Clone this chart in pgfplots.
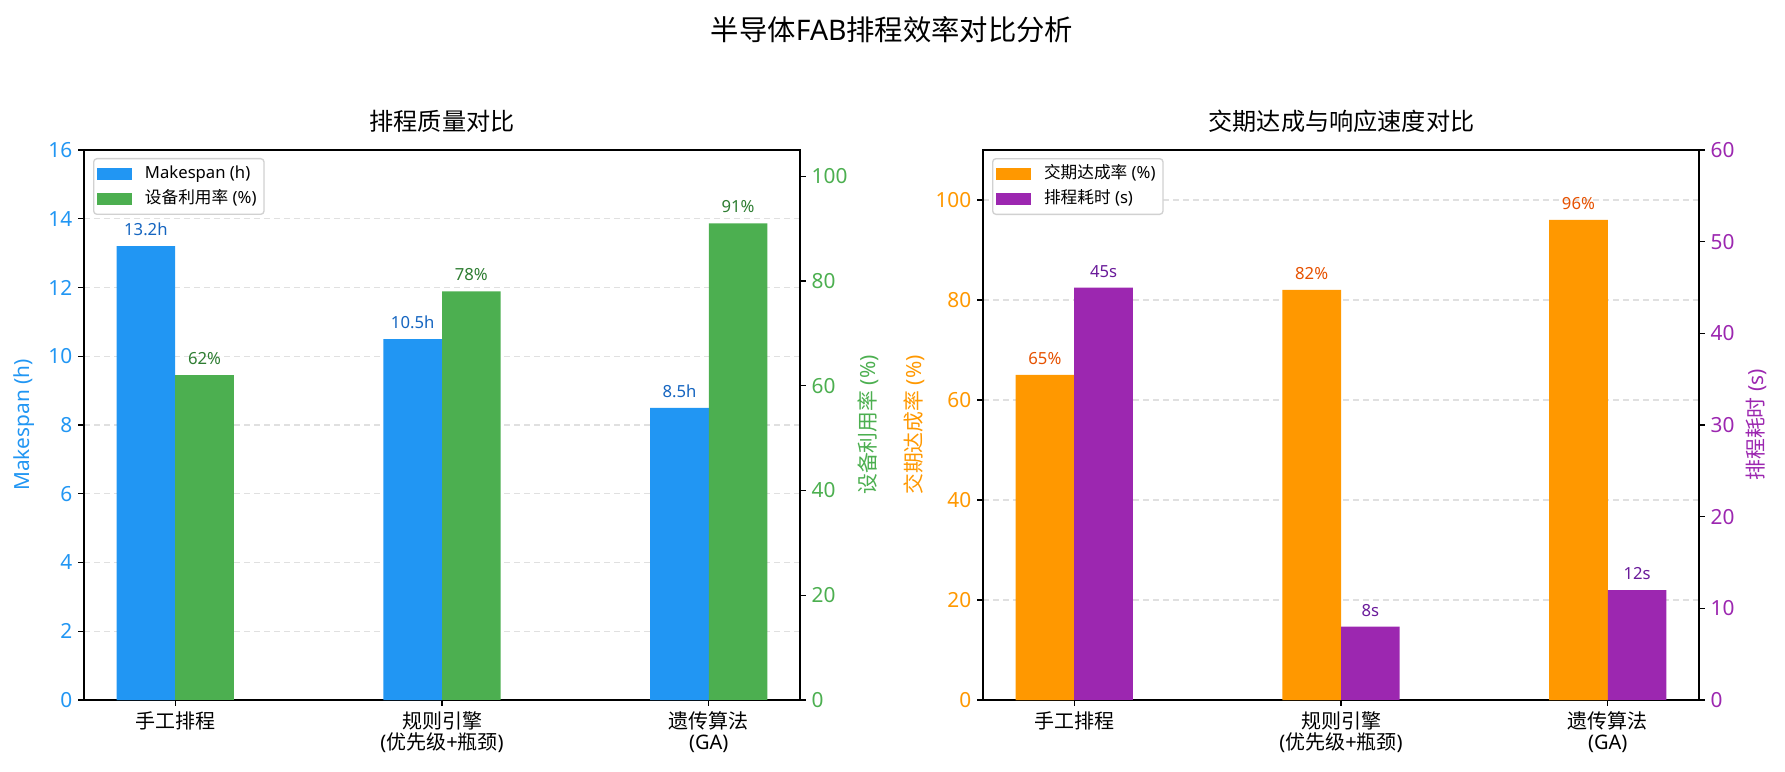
\documentclass[border=0pt]{standalone}
\usepackage{fontspec}
\setmainfont{Noto Sans}
\newfontfamily\cjk{Noto Sans CJK SC}
\usepackage{pgfplots}
\pgfplotsset{compat=1.18}
\newcommand\C[1]{{\cjk #1}}
\definecolor{cblue}{HTML}{2196F3}
\definecolor{cgreen}{HTML}{4CAF50}
\definecolor{corange}{HTML}{FF9800}
\definecolor{cpurple}{HTML}{9C27B0}
\definecolor{lblue}{HTML}{1565C0}
\definecolor{lgreen}{HTML}{2E7D32}
\definecolor{lorange}{HTML}{E65100}
\definecolor{lpurple}{HTML}{6A1B9A}
\pgfplotsset{
  base/.style={
    scale only axis, width=429.6pt, height=330pt,
    xmin=-0.342, xmax=2.342,
    tick align=outside, major tick length=3.5pt,
    every tick/.style={black, line width=0.8pt},
    axis line style={line width=0.8pt},
    yticklabel style={font=\fontsize{12.5}{14}\selectfont},
    /pgf/number format/assume math mode=true,
    clip=false,
  },
  lab/.style={point meta=explicit symbolic, nodes near coords,
    every node near coord/.append style={font=\fontsize{10}{12}\selectfont, color=#1, inner sep=0pt, yshift=6pt}},
  leg/.style={legend cell align=left,
    legend style={at={(0,1)}, anchor=north west, xshift=5.4pt, yshift=-4.8pt,
      draw=black!18, line width=0.8pt, rounded corners=2pt, fill=white,
      font=\fontsize{10}{12}\selectfont, inner sep=2pt, row sep=0pt,
      nodes={inner sep=2.5pt, text height=7.5pt, text depth=2.2pt}, cells={anchor=west}}},
  mygrid/.style={ymajorgrids, grid style={dash pattern=on 3.6pt off 2.4pt, line width=0.8pt, color=black!12}},
  patch/.style={legend image code/.code={\fill[#1, sharp corners] (0pt,-3.3pt) rectangle (20.4pt,3.3pt); \path (25.5pt,0pt);}},
}
\begin{document}
\begin{tikzpicture}
\useasboundingbox (0,0) rectangle (1071pt,463.2pt);
% ---------- left panel ----------
\begin{axis}[base, at={(50.4pt,43.2pt)}, anchor=south west,
  ymin=0, ymax=16, ytick={0,2,...,16}, mygrid,
  xtick={0,1,2}, xticklabels={\C{手工排程}, {\C{规则引擎}\\(\C{优先级}+\C{瓶颈})}, {\C{遗传算法}\\(GA)}},
  xticklabel style={font=\fontsize{12}{12.3}\selectfont, align=center, text=black},
  xtick pos=left, ytick pos=left, yticklabel style={color=cblue}]
\addplot[ybar, bar width=0.22, bar shift=0pt, fill=cblue, draw=none, forget plot, lab=lblue]
  coordinates {(-0.11,13.2) [13.2h] (0.89,10.5) [10.5h] (1.89,8.5) [8.5h]};
\end{axis}
\begin{axis}[base, at={(50.4pt,43.2pt)}, anchor=south west,
  ymin=0, ymax=105, ytick={0,20,...,100}, axis y line*=right, axis x line=none,
  xtick=\empty, yticklabel style={color=cgreen}, leg]
\addplot[ybar, bar width=0.22, bar shift=0pt, fill=cgreen, draw=none, forget plot, lab=lgreen]
  coordinates {(0.11,62) [62\%] (1.11,78) [78\%] (2.11,91) [91\%]};
\addlegendimage{patch=cblue}
\addlegendentry{Makespan (h)}
\addlegendimage{patch=cgreen}
\addlegendentry{\C{设备利用率} (\%)}
\end{axis}
% ---------- right panel ----------
\begin{axis}[base, at={(589.8pt,43.2pt)}, anchor=south west,
  ymin=0, ymax=110, ytick={0,20,...,100}, mygrid,
  xtick={0,1,2}, xticklabels={\C{手工排程}, {\C{规则引擎}\\(\C{优先级}+\C{瓶颈})}, {\C{遗传算法}\\(GA)}},
  xticklabel style={font=\fontsize{12}{12.3}\selectfont, align=center, text=black},
  xtick pos=left, ytick pos=left, yticklabel style={color=corange}]
\addplot[ybar, bar width=0.22, bar shift=0pt, fill=corange, draw=none, forget plot, lab=lorange]
  coordinates {(-0.11,65) [65\%] (0.89,82) [82\%] (1.89,96) [96\%]};
\end{axis}
\begin{axis}[base, at={(589.8pt,43.2pt)}, anchor=south west,
  ymin=0, ymax=60, ytick={0,10,...,60}, axis y line*=right, axis x line=none,
  xtick=\empty, yticklabel style={color=cpurple}, leg]
\addplot[ybar, bar width=0.22, bar shift=0pt, fill=cpurple, draw=none, forget plot, lab=lpurple]
  coordinates {(0.11,45) [45s] (1.11,8) [8s] (2.11,12) [12s]};
\addlegendimage{patch=corange}
\addlegendentry{\C{交期达成率} (\%)}
\addlegendimage{patch=cpurple}
\addlegendentry{\C{排程耗时} (s)}
\end{axis}
% ---------- labels and titles ----------
\node[rotate=90, text=cblue, font=\fontsize{12.5}{14}\selectfont] at (14.4pt,208.2pt) {Makespan (h)};
\node[rotate=90, text=cgreen, font=\fontsize{12.5}{14}\selectfont] at (520.8pt,208.2pt) {\C{设备利用率} (\%)};
\node[rotate=90, text=corange, font=\fontsize{12.5}{14}\selectfont] at (548.4pt,208.2pt) {\C{交期达成率} (\%)};
\node[rotate=90, text=cpurple, font=\fontsize{12.5}{14}\selectfont] at (1053.6pt,208.2pt) {\C{排程耗时} (s)};
\node[font=\fontsize{14.5}{16}\selectfont] at (265.2pt,390.6pt) {\C{排程质量对比}};
\node[font=\fontsize{14.5}{16}\selectfont] at (804.9pt,390.6pt) {\C{交期达成与响应速度对比}};
\node[font=\fontsize{17}{20}\selectfont] at (535.2pt,445.2pt) {\C{半导体}FAB\C{排程效率对比分析}};
\end{tikzpicture}
\end{document}
